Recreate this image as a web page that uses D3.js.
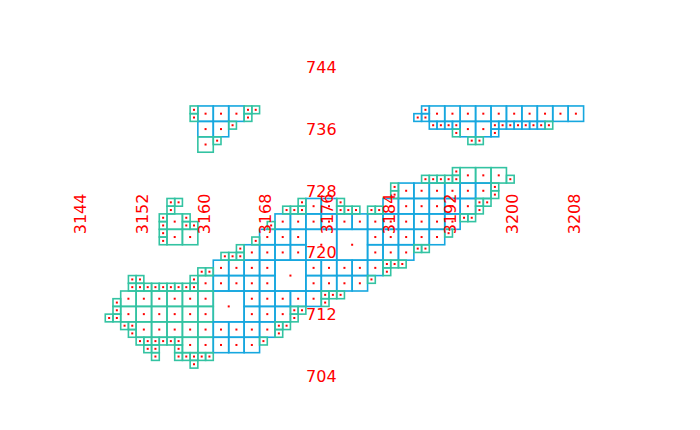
<!DOCTYPE html>
<html><head><meta charset="utf-8">
<script src="https://cdn.jsdelivr.net/npm/d3@7"></script>
<style>body{margin:0;background:#fff}svg{display:block}</style>
</head><body><svg id="c" width="700" height="430"></svg>
<script>
const xTicks=[3144,3152,3160,3168,3176,3184,3192,3200,3208];
const yTicks=[704,712,720,728,736,744];
// cells: [left X, bottom Y, group]  group 0 = teal, 1 = blue
const cells4=[[3161,711,1],[3169,715,1],[3173,719,1],[3177,719,1]];
const cells2=[
[3159,737,1],[3161,737,1],[3163,737,1],[3159,735,1],[3161,735,1],[3159,733,0],
[3189,737,1],[3191,737,1],[3193,737,1],[3195,737,1],[3197,737,1],[3199,737,1],[3201,737,1],[3203,737,1],[3205,737,1],[3207,737,1],[3193,735,1],[3195,735,1],
[3155,723,0],[3155,721,0],[3157,721,0],
[3193,729,0],[3195,729,0],[3197,729,0],
[3185,727,1],[3187,727,1],[3189,727,1],[3191,727,1],[3193,727,1],[3195,727,1],
[3173,725,1],[3175,725,1],[3183,725,1],[3185,725,1],[3187,725,1],[3189,725,1],[3191,725,1],[3193,725,1],
[3169,723,1],[3171,723,1],[3173,723,1],[3175,723,1],[3177,723,1],[3179,723,1],[3181,723,1],[3183,723,1],[3185,723,1],[3187,723,1],[3189,723,1],[3191,723,1],
[3167,721,1],[3169,721,1],[3171,721,1],[3181,721,1],[3183,721,1],[3185,721,1],[3187,721,1],[3189,721,1],
[3165,719,1],[3167,719,1],[3169,719,1],[3171,719,1],[3181,719,1],[3183,719,1],[3185,719,1],
[3161,717,1],[3163,717,1],[3165,717,1],[3167,717,1],[3173,717,1],[3175,717,1],[3177,717,1],[3179,717,1],[3181,717,1],
[3159,715,0],[3161,715,1],[3163,715,1],[3165,715,1],[3167,715,1],[3173,715,1],[3175,715,1],[3177,715,1],[3179,715,1],
[3149,713,0],[3151,713,0],[3153,713,0],[3155,713,0],[3157,713,0],[3159,713,0],[3165,713,1],[3167,713,1],[3169,713,1],[3171,713,1],[3173,713,1],
[3149,711,0],[3151,711,0],[3153,711,0],[3155,711,0],[3157,711,0],[3159,711,0],[3165,711,1],[3167,711,1],[3169,711,1],
[3151,709,0],[3153,709,0],[3155,709,0],[3157,709,0],[3159,709,0],[3161,709,1],[3163,709,1],[3165,709,1],[3167,709,1],
[3157,707,0],[3159,707,0],[3161,707,1],[3163,707,1],[3165,707,1]
];
const cells1=[
[3158,738,0],[3158,737,0],[3165,738,0],[3166,738,0],[3165,737,0],[3163,736,0],[3161,734,0],
[3188,738,1],[3187,737,1],[3188,737,1],[3189,736,1],[3190,736,1],[3191,736,1],[3192,736,1],[3197,736,1],[3198,736,1],[3199,736,1],[3200,736,1],[3201,736,1],[3202,736,1],[3203,736,1],[3204,736,0],[3192,735,0],[3197,735,1],[3194,734,0],[3195,734,0],
[3155,726,0],[3156,726,0],[3155,725,0],[3154,724,0],[3157,724,0],[3157,723,0],[3158,723,0],[3154,723,0],[3154,722,0],[3154,721,0],
[3192,730,0],[3188,729,0],[3189,729,0],[3190,729,0],[3191,729,0],[3192,729,0],[3199,729,0],
[3184,728,0],[3184,727,0],[3197,728,0],[3197,727,0],
[3172,726,0],[3170,725,0],[3171,725,0],[3172,725,0],[3177,726,0],[3177,725,0],[3178,725,0],[3179,725,0],[3181,725,0],[3182,725,0],[3195,726,0],[3196,726,0],[3195,725,0],
[3168,723,0],[3193,724,0],[3194,724,0],
[3166,721,0],[3191,722,0],
[3164,720,0],[3162,719,0],[3163,719,0],[3164,719,0],[3187,720,0],[3188,720,0],
[3159,717,0],[3160,717,0],[3183,718,0],[3184,718,0],[3185,718,0],[3183,717,0],
[3150,716,0],[3151,716,0],[3158,716,0],[3181,716,0],
[3150,715,0],[3151,715,0],[3152,715,0],[3153,715,0],[3154,715,0],[3155,715,0],[3156,715,0],[3157,715,0],[3158,715,0],
[3175,714,0],[3176,714,0],[3177,714,0],[3175,713,0],[3148,713,0],
[3148,712,0],[3171,712,0],[3172,712,0],[3147,711,0],[3148,711,0],[3171,711,0],
[3149,710,0],[3150,710,0],[3150,709,0],[3169,710,0],[3170,710,0],[3169,709,0],
[3151,708,0],[3152,708,0],[3153,708,0],[3154,708,0],[3155,708,0],[3156,708,0],[3167,708,0],[3152,707,0],[3153,707,0],[3156,707,0],
[3153,706,0],[3156,706,0],[3157,706,0],[3158,706,0],[3159,706,0],[3160,706,0],[3158,705,0]
];
const groupColors=["#33c3a2","#16a7df"];

const svg=d3.select("#c");
svg.append("rect").attr("width",700).attr("height",430).attr("fill","#fff");
const x=d3.scaleLinear().domain([3149,3209]).range([120.7,583.6]);
const y=d3.scaleLinear().domain([705,745]).range([368.1,59.7]);
const col=d3.scaleOrdinal().domain([0,1]).range(groupColors);

const all=[].concat(
  cells4.map(d=>({x:d[0],y:d[1],s:4,g:d[2]})),
  cells2.map(d=>({x:d[0],y:d[1],s:2,g:d[2]})),
  cells1.map(d=>({x:d[0],y:d[1],s:1,g:d[2]}))
);
const gCells=svg.append("g");
gCells.selectAll("rect").data(all).join("rect")
  .attr("x",d=>x(d.x)).attr("y",d=>y(d.y+d.s))
  .attr("width",d=>x(d.x+d.s)-x(d.x)).attr("height",d=>y(d.y)-y(d.y+d.s))
  .attr("fill","none").attr("stroke",d=>col(d.g)).attr("stroke-width",1.6);
const gDots=svg.append("g");
gDots.selectAll("rect").data(all).join("rect")
  .attr("x",d=>x(d.x+d.s/2)-1).attr("y",d=>y(d.y+d.s/2)-1)
  .attr("width",2).attr("height",2).attr("fill","#ff0000");

const font="DejaVu Sans";
svg.append("g").selectAll("text").data(xTicks).join("text")
  .attr("transform",d=>`translate(${x(d)-1.8+5.8},${y(725)}) rotate(-90)`)
  .attr("text-anchor","middle").attr("font-family",font).attr("font-size",16)
  .attr("fill","#ff0000").text(d=>d);
svg.append("g").selectAll("text").data(yTicks).join("text")
  .attr("x",x(3175)).attr("y",d=>y(d)+5.8)
  .attr("text-anchor","middle").attr("font-family",font).attr("font-size",16)
  .attr("fill","#ff0000").text(d=>d);
</script></body></html>
